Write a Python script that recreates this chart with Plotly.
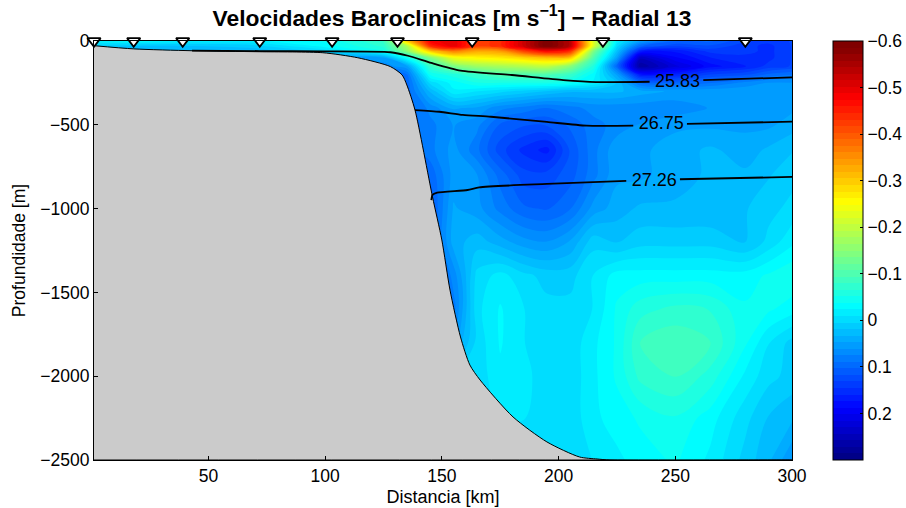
import numpy as np
import plotly.graph_objects as go

FONT = "Liberation Sans"

km = [1, 20, 40, 70, 100, 125, 135, 145, 155, 165, 175, 185, 195, 205, 215, 225, 235, 250, 265, 280, 290, 300]
depth = [0, -30, -60, -100, -150, -200, -250, -300, -400, -500, -650, -800, -1000, -1200, -1400, -1600, -1800, -2000, -2250, -2500]

velocity = [
    [-0.02, -0.03, -0.02, -0.02, -0.04, -0.08, -0.30, -0.48, -0.50, -0.42, -0.44, -0.52, -0.60, -0.54, -0.22, -0.02, 0.05, 0.10, 0.10, 0.13, 0.14, 0.13],
    [0.01, 0.02, 0.02, 0.01, -0.03, -0.07, -0.18, -0.44, -0.50, -0.42, -0.44, -0.52, -0.60, -0.54, -0.22, 0.00, 0.10, 0.13, 0.12, 0.14, 0.15, 0.13],
    [0.03, 0.03, 0.03, 0.03, 0.00, -0.05, -0.15, -0.30, -0.37, -0.33, -0.34, -0.42, -0.48, -0.44, -0.14, 0.02, 0.16, 0.17, 0.14, 0.14, 0.15, 0.13],
    [0.05, 0.05, 0.05, 0.05, 0.05, 0.05, -0.04, -0.14, -0.24, -0.26, -0.27, -0.29, -0.31, -0.30, -0.10, 0.05, 0.24, 0.19, 0.16, 0.15, 0.15, 0.13],
    [0.05, 0.05, 0.05, 0.05, 0.05, 0.07, 0.05, -0.08, -0.14, -0.17, -0.18, -0.19, -0.20, -0.15, -0.06, 0.10, 0.27, 0.22, 0.18, 0.16, 0.14, 0.13],
    [0.08, 0.08, 0.08, 0.08, 0.08, 0.10, 0.09, -0.04, -0.06, -0.08, -0.10, -0.10, -0.10, -0.08, -0.03, 0.05, 0.17, 0.16, 0.13, 0.12, 0.10, 0.09],
    [0.10, 0.10, 0.10, 0.10, 0.10, 0.10, 0.10, 0.00, -0.03, -0.05, -0.05, -0.05, -0.05, -0.04, -0.02, 0.02, 0.09, 0.10, 0.09, 0.07, 0.06, 0.06],
    [0.10, 0.10, 0.10, 0.10, 0.10, 0.10, 0.10, 0.03, -0.02, -0.01, 0.00, 0.01, 0.02, 0.03, 0.03, 0.03, 0.04, 0.05, 0.05, 0.05, 0.05, 0.05],
    [0.10, 0.10, 0.10, 0.10, 0.10, 0.10, 0.10, 0.07, 0.045, 0.05, 0.07, 0.08, 0.09, 0.08, 0.07, 0.07, 0.07, 0.07, 0.06, 0.05, 0.05, 0.05],
    [0.10, 0.10, 0.10, 0.10, 0.10, 0.10, 0.10, 0.08, 0.06, 0.07, 0.105, 0.115, 0.115, 0.10, 0.08, 0.07, 0.06, 0.05, 0.05, 0.05, 0.05, 0.04],
    [0.10, 0.10, 0.10, 0.10, 0.10, 0.10, 0.10, 0.08, 0.055, 0.085, 0.125, 0.15, 0.165, 0.115, 0.08, 0.05, 0.05, 0.04, 0.03, 0.04, 0.03, 0.02],
    [0.10, 0.10, 0.10, 0.10, 0.10, 0.10, 0.10, 0.10, 0.055, 0.06, 0.095, 0.125, 0.125, 0.11, 0.08, 0.05, 0.05, 0.04, 0.03, 0.03, 0.02, 0.01],
    [0.11, 0.11, 0.11, 0.11, 0.11, 0.11, 0.11, 0.11, 0.045, 0.055, 0.08, 0.10, 0.105, 0.09, 0.055, 0.04, 0.03, 0.03, 0.03, 0.02, 0.01, 0.00],
    [0.11, 0.11, 0.11, 0.11, 0.11, 0.11, 0.11, 0.11, 0.04, 0.025, 0.04, 0.055, 0.06, 0.045, 0.01, 0.02, 0.01, 0.01, 0.01, 0.02, 0.00, -0.02],
    [0.11, 0.11, 0.11, 0.11, 0.11, 0.11, 0.11, 0.11, 0.07, 0.00, -0.015, 0.00, 0.01, 0.01, -0.01, -0.03, -0.03, -0.03, -0.03, -0.03, -0.04, -0.05],
    [0.08, 0.08, 0.08, 0.08, 0.08, 0.08, 0.08, 0.08, 0.08, -0.005, -0.025, -0.01, 0.00, 0.00, -0.01, -0.04, -0.06, -0.07, -0.065, -0.04, -0.04, -0.03],
    [0.05, 0.05, 0.05, 0.05, 0.05, 0.05, 0.05, 0.05, 0.05, 0.00, -0.025, -0.01, 0.00, 0.00, -0.02, -0.04, -0.08, -0.09, -0.08, -0.04, -0.01, 0.01],
    [0.00, 0.00, 0.00, 0.00, 0.00, 0.00, 0.00, 0.00, 0.00, 0.00, -0.02, -0.015, 0.00, 0.00, -0.02, -0.04, -0.07, -0.08, -0.06, -0.02, 0.00, 0.01],
    [0.00, 0.00, 0.00, 0.00, 0.00, 0.00, 0.00, 0.00, 0.00, 0.00, -0.01, -0.01, 0.00, 0.00, -0.02, -0.03, -0.04, -0.05, -0.03, 0.00, 0.02, 0.03],
    [0.00, 0.00, 0.00, 0.00, 0.00, 0.00, 0.00, 0.00, 0.00, 0.00, 0.00, 0.00, 0.00, 0.00, -0.01, -0.02, -0.03, -0.04, -0.02, 0.01, 0.03, 0.06],
]

bathy_km = [1, 18, 43, 72, 99, 114, 128, 133, 135, 138.5, 146, 150, 153.5, 158, 162, 166.4, 180.5, 195, 209, 216.5, 222, 300, 1]
bathy_depth = [-28, -47, -58, -64, -70, -100, -153, -203, -262, -412, -930, -1187, -1486, -1766, -1933, -2023, -2243, -2392, -2482, -2494, -2500, -2500, -2500]

iso1_km = [43, 72, 99, 128, 135.5, 145.5, 158, 180, 202, 216, 239, None, 262, 300]
iso1_depth = [-57, -60, -62, -67, -88, -131, -177, -203, -233, -245, -243, None, -233, -217]
iso2_km = [138.5, 149, 159, 171, 195, 212, 232, None, 255, 300]
iso2_depth = [-412, -422, -441, -452, -483, -505, -505, None, -495, -481]
iso3_km = [145.5, 146, 148, 161, 166, 195, 229, None, 252, 300]
iso3_depth = [-950, -918, -905, -889, -873, -853, -835, None, -825, -811]

label_km = [251, 244, 241]
label_depth = [-245, -500, -836]
label_text = ["25.83", "26.75", "27.26"]

station_km = [1, 18, 39, 72, 103, 131, 163, 219, 280]
station_depth = [0, 0, 0, 0, 0, 0, 0, 0, 0]

cbar_vals = [0.6, 0.5, 0.4, 0.3, 0.2, 0.1, 0.0, -0.1, -0.2]
cbar_text = ["\u22120.6", "\u22120.5", "\u22120.4", "\u22120.3", "\u22120.2", "\u22120.1", "0", "0.1", "0.2"]
x_ticks = [50, 100, 150, 200, 250, 300]
y_ticks = [0, -500, -1000, -1500, -2000, -2500]

jet = [
    [0.0, "rgb(0,0,128)"], [0.125, "rgb(0,0,255)"], [0.375, "rgb(0,255,255)"],
    [0.625, "rgb(255,255,0)"], [0.875, "rgb(255,0,0)"], [1.0, "rgb(128,0,0)"],
]

fig = go.Figure()
fig.add_trace(go.Contour(
    x=km, y=depth, z=-np.array(velocity),
    colorscale=jet, zmin=-0.3, zmax=0.6, zauto=False,
    autocontour=False,
    contours=dict(coloring="fill", start=-0.3, end=0.6, size=0.9 / 64, showlines=False),
    line=dict(width=0, smoothing=1),
    colorbar=dict(
        x=(833 - 94) / 698, xanchor="left", xpad=0, y=0.5, yanchor="middle", ypad=0,
        len=1, lenmode="fraction", thickness=30, thicknessmode="pixels",
        tickmode="array", tickvals=cbar_vals, ticktext=cbar_text,
        ticks="inside", ticklen=3, tickcolor="black", tickwidth=1,
        outlinecolor="black", outlinewidth=1,
        tickfont=dict(family=FONT, size=17.5, color="black"),
    ),
    hoverinfo="skip",
))
fig.add_trace(go.Scatter(
    x=bathy_km, y=bathy_depth, mode="lines", fill="toself", fillcolor="#cbcbcb",
    line=dict(color="black", width=1, shape="spline", smoothing=0.7), showlegend=False, hoverinfo="skip",
))
for xs, ys in [(iso1_km, iso1_depth), (iso2_km, iso2_depth), (iso3_km, iso3_depth)]:
    fig.add_trace(go.Scatter(x=xs, y=ys, mode="lines", line=dict(color="black", width=1.8, shape="spline", smoothing=0.6),
                             connectgaps=False, showlegend=False, hoverinfo="skip"))
fig.add_trace(go.Scatter(
    x=label_km, y=label_depth, mode="text", text=label_text,
    textfont=dict(family=FONT, size=18, color="black"), textposition="middle center",
    showlegend=False, hoverinfo="skip",
))
fig.add_trace(go.Scatter(
    x=station_km, y=station_depth, mode="markers", cliponaxis=False,
    marker=dict(symbol="triangle-down", size=11.5, color="white", line=dict(color="black", width=1.8)),
    showlegend=False, hoverinfo="skip",
))

axis = dict(showgrid=False, zeroline=False, showline=True, mirror=True, linecolor="black", linewidth=1,
            ticks="inside", ticklen=4, tickcolor="black", tickfont=dict(family=FONT, size=17.5, color="black"))
fig.update_layout(
    width=906, height=508, autosize=False,
    margin=dict(l=94, r=114, t=41, b=48, autoexpand=False),
    paper_bgcolor="white", plot_bgcolor="white", showlegend=False,
    title=dict(
        text="Velocidades Baroclinicas [m s<sup>\u22121</sup>] \u2212 Radial 13",
        x=(452 - 94) / 698, xref="paper", xanchor="center", y=1 - 18 / 508, yref="container", yanchor="middle",
        font=dict(family=FONT, size=22.8, color="black", weight="bold"),
    ),
    xaxis=dict(axis, range=[1, 300], tickmode="array", tickvals=x_ticks,
               title=dict(text="Distancia [km]", font=dict(family=FONT, size=18, color="black"), standoff=5)),
    yaxis=dict(axis, range=[-2500, 0], tickmode="array", tickvals=y_ticks,
               title=dict(text="Profundidade [m]", font=dict(family=FONT, size=17.5, color="black"), standoff=10)),
)
fig.write_html("out.html", post_script="document.body.style.margin='0';", config=dict(displayModeBar=False))
